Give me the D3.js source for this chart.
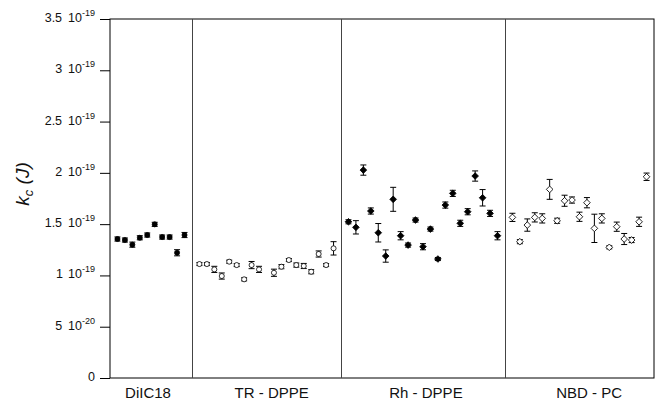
<!DOCTYPE html>
<html>
<head>
<meta charset="utf-8">
<script src="https://cdn.jsdelivr.net/npm/d3@7"></script>
<style>
  body { margin: 0; background: #fff; }
  svg { font-family: "Liberation Sans", Arial, sans-serif; }
</style>
</head>
<body>
<div id="chart"></div>
<script>
const width = 662;
const height = 408;

// values in units of 1e-19 J
const groups = ['DiIC18', 'TR - DPPE', 'Rh - DPPE', 'NBD - PC'];
const groupLabelAt = [5.1, 21.7, 42.4, 64.3];
const dividers = [11, 31, 53];

const diicIdx = [1, 2, 3, 4, 5, 6, 7, 8, 9, 10];
const diicVal = [1.355, 1.345, 1.30, 1.367, 1.394, 1.498, 1.374, 1.374, 1.221, 1.394];
const diicErr = [0.02, 0.02, 0.025, 0.02, 0.02, 0.02, 0.02, 0.02, 0.03, 0.025];

const trIdx = [12, 13, 14, 15, 16, 17, 18, 19, 20, 22, 23, 24, 25, 26, 27, 28, 29, 30];
const trVal = [1.111, 1.111, 1.059, 0.994, 1.134, 1.101, 0.962, 1.101, 1.059, 1.026, 1.085, 1.150, 1.101, 1.092, 1.036, 1.209, 1.101, 1.264];
const trErr = [0.015, 0.015, 0.03, 0.03, 0.015, 0.015, 0.015, 0.035, 0.03, 0.035, 0.02, 0.015, 0.02, 0.025, 0.02, 0.03, 0.015, 0.065];

const rhIdx = d3.range(32, 53);
const rhVal = [1.523, 1.469, 2.027, 1.628, 1.416, 1.189, 1.742, 1.387, 1.296, 1.54, 1.28, 1.452, 1.16, 1.686, 1.80, 1.508, 1.621, 1.969, 1.757, 1.605, 1.387];
const rhErr = [0.02, 0.065, 0.05, 0.03, 0.09, 0.06, 0.117, 0.04, 0.02, 0.02, 0.03, 0.02, 0.015, 0.03, 0.03, 0.03, 0.03, 0.05, 0.08, 0.03, 0.04];

const nbdIdx = d3.range(54, 73);
const nbdVal = [1.566, 1.329, 1.491, 1.566, 1.556, 1.839, 1.533, 1.728, 1.735, 1.572, 1.709, 1.459, 1.556, 1.274, 1.475, 1.355, 1.345, 1.523, 1.962];
const nbdErr = [0.04, 0.02, 0.06, 0.045, 0.045, 0.097, 0.025, 0.054, 0.03, 0.045, 0.05, 0.138, 0.045, 0.015, 0.045, 0.054, 0.025, 0.045, 0.036];

const tickVals = [0, 0.5, 1, 1.5, 2, 2.5, 3, 3.5];
const tickMant = ['0', '5', '1', '1.5', '2', '2.5', '3', '3.5'];
const tickExp = [null, '-20', '-19', '-19', '-19', '-19', '-19', '-19'];

const margin = { left: 110, right: 8, top: 19, bottom: 30 };

const x = d3.scaleLinear().domain([0, 73]).range([margin.left, width - margin.right]);
const y = d3.scaleLinear().domain([0, 3.5]).range([height - margin.bottom, margin.top]);

const svg = d3.select('#chart')
    .append('svg')
    .attr('width', width)
    .attr('height', height);

// frame
svg.append('rect')
    .attr('x', x(0))
    .attr('y', y(3.5))
    .attr('width', x(73) - x(0))
    .attr('height', y(0) - y(3.5))
    .attr('fill', 'none')
    .attr('stroke', '#000')
    .attr('stroke-width', 1);

// group dividers
svg.selectAll('.divider')
    .data(dividers)
    .enter()
    .append('line')
    .attr('class', 'divider')
    .attr('x1', (d) => Math.round(x(d)) + 0.5)
    .attr('x2', (d) => Math.round(x(d)) + 0.5)
    .attr('y1', y(3.5))
    .attr('y2', y(0))
    .attr('stroke', '#444')
    .attr('stroke-width', 1);

// y axis
const yAxis = svg.append('g')
    .attr('transform', 'translate(' + x(0) + ',0)')
    .call(d3.axisLeft(y).tickValues(tickVals).tickSize(10).tickFormat(''));
yAxis.select('.domain').remove();

const tickText = svg.selectAll('.ytick')
    .data(tickVals)
    .enter()
    .append('text')
    .attr('class', 'ytick')
    .attr('x', 95)
    .attr('y', (d) => y(d) + 3)
    .attr('text-anchor', 'end')
    .attr('font-size', 12.5)
    .attr('fill', '#111');

tickText.append('tspan')
    .text((d, i) => tickMant[i]);
tickText.filter((d, i) => tickExp[i])
    .append('tspan')
    .attr('dx', 6)
    .text('10');
tickText.filter((d, i) => tickExp[i])
    .append('tspan')
    .attr('dy', -6)
    .attr('font-size', 9)
    .text((d) => tickExp[tickVals.indexOf(d)]);

// y label
const yLabel = svg.append('text')
    .attr('transform', 'translate(29,' + 184 + ') rotate(-90)')
    .attr('text-anchor', 'middle')
    .attr('font-size', 19)
    .attr('font-style', 'italic')
    .attr('fill', '#111');
yLabel.append('tspan').text('k');
yLabel.append('tspan').attr('font-size', 13).attr('dy', 4).text('c');
yLabel.append('tspan').attr('dy', -4).text(' (J)');

// category labels
svg.selectAll('.cat')
    .data(groups)
    .enter()
    .append('text')
    .attr('class', 'cat')
    .attr('x', (d, i) => x(groupLabelAt[i]))
    .attr('y', 398)
    .attr('text-anchor', 'middle')
    .attr('font-size', 15)
    .attr('fill', '#111')
    .text((d) => d);

// series
const series = [
    { idx: diicIdx, val: diicVal, err: diicErr, shape: d3.symbolCircle, size: 20, fill: '#000', rot: 0 },
    { idx: trIdx, val: trVal, err: trErr, shape: d3.symbolCircle, size: 20, fill: '#fff', rot: 0 },
    { idx: rhIdx, val: rhVal, err: rhErr, shape: d3.symbolSquare, size: 22, fill: '#000', rot: 45 },
    { idx: nbdIdx, val: nbdVal, err: nbdErr, shape: d3.symbolSquare, size: 22, fill: '#fff', rot: 45 }
];

series.forEach((s) => {
    const pts = s.idx.map((d, i) => ({ i: d, v: s.val[i], e: s.err[i] }));
    const g = svg.append('g');

    const bar = g.selectAll('.err')
        .data(pts)
        .enter()
        .append('g')
        .attr('stroke', '#000')
        .attr('stroke-width', 1);

    bar.append('line')
        .attr('x1', (d) => x(d.i))
        .attr('x2', (d) => x(d.i))
        .attr('y1', (d) => y(d.v - d.e))
        .attr('y2', (d) => y(d.v + d.e));
    bar.append('line')
        .attr('x1', (d) => x(d.i) - 3)
        .attr('x2', (d) => x(d.i) + 3)
        .attr('y1', (d) => y(d.v - d.e))
        .attr('y2', (d) => y(d.v - d.e));
    bar.append('line')
        .attr('x1', (d) => x(d.i) - 3)
        .attr('x2', (d) => x(d.i) + 3)
        .attr('y1', (d) => y(d.v + d.e))
        .attr('y2', (d) => y(d.v + d.e));

    g.selectAll('.pt')
        .data(pts)
        .enter()
        .append('path')
        .attr('d', d3.symbol().type(s.shape).size(s.size))
        .attr('transform', (d) => 'translate(' + x(d.i) + ',' + y(d.v) + ') rotate(' + s.rot + ')')
        .attr('fill', s.fill)
        .attr('stroke', '#000')
        .attr('stroke-width', 0.8);
});
</script>
</body>
</html>
